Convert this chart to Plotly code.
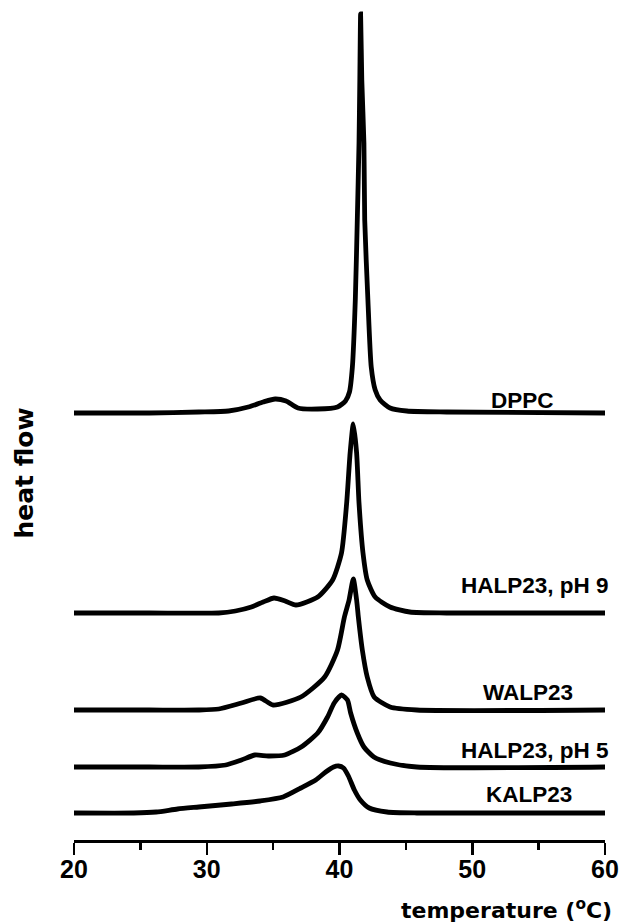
import plotly.graph_objects as go

# Temperatures (deg C) and heat flow (arbitrary units, stacked)
dppc_t = [20.00, 25.67, 29.40, 31.64, 33.13, 34.25, 35.15, 35.97, 36.87, 38.36, 39.85, 40.45, 40.75,
          40.97, 41.19, 41.34, 41.47, 41.53, 41.59, 41.68, 41.84, 41.90, 42.14, 42.39, 42.69, 43.06,
          43.81, 45.07, 48.06, 60.00]
dppc_h = [427, 427, 428, 429, 433, 438, 441, 439, 432, 431, 433, 439, 448,
          473, 540, 620, 697, 760, 826, 760, 697, 620, 540, 473, 450, 440,
          432, 429, 428, 427]

halp9_t = [20.00, 25.67, 30.90, 32.16, 33.36, 34.25, 35.07, 35.90, 36.72, 38.36, 39.48, 40.15, 40.54,
           40.80, 41.04, 41.29, 41.47, 41.77, 42.09, 42.69, 43.81, 45.30, 48.06, 60.00]
halp9_h = [227, 227, 227, 229, 233, 238, 242, 239, 235, 243, 260, 287, 337,
           387, 416, 387, 337, 287, 260, 243, 233, 228, 227, 227]

walp_t = [20.00, 25.67, 29.40, 30.90, 32.61, 34.03, 35.00, 37.09, 38.88, 39.85, 40.37, 40.72, 41.04,
          41.29, 41.42, 41.72, 42.09, 42.61, 43.81, 45.82, 60.00]
walp_h = [130, 130, 130, 131, 137, 142, 135, 143, 163, 190, 223, 240, 261,
          240, 223, 190, 163, 143, 133, 130, 130]

halp5_t = [20.00, 25.67, 29.40, 31.42, 32.61, 33.63, 34.63, 35.87, 37.11, 38.36, 39.10, 39.60, 40.15,
           40.60, 40.84, 41.34, 41.84, 42.59, 43.83, 45.82, 60.00]
halp5_h = [73, 73, 73, 75, 80, 85, 84, 85, 93, 107, 123, 137, 145,
           140, 127, 107, 93, 83, 77, 73, 73]

kalp_t = [20.00, 24.50, 26.20, 27.80, 29.40, 31.87, 34.03, 35.75, 37.09, 38.21, 38.96, 39.55, 39.93,
          40.30, 40.67, 41.12, 41.57, 42.24, 43.58, 45.82, 60.00]
kalp_h = [27, 27, 28, 31, 33, 36, 39, 43, 52, 60, 68, 73, 74,
          72, 64, 50, 40, 32, 28, 27, 27]

names = ["DPPC", "HALP23, pH 9", "WALP23", "HALP23, pH 5", "KALP23"]
label_t = [53.8, 54.7, 54.2, 54.7, 54.3]
label_h = [440, 255, 148, 90, 46]

tick_vals = [20, 30, 40, 50, 60]
tick_text = ["20", "30", "40", "50", "60"]

series = [(dppc_t, dppc_h), (halp9_t, halp9_h), (walp_t, walp_h), (halp5_t, halp5_h), (kalp_t, kalp_h)]

fig = go.Figure()
for (t, h), n in zip(series, names):
    fig.add_trace(go.Scatter(x=t, y=h, mode="lines", name=n,
                             line=dict(color="black", width=4.8, shape="spline", smoothing=0.6),
                             showlegend=False, hoverinfo="skip"))

for n, lt, lh in zip(names, label_t, label_h):
    fig.add_annotation(x=lt, y=lh, text=n, showarrow=False, xanchor="center", yanchor="middle",
                       font=dict(family="Liberation Sans", size=22.5, color="black", weight="bold"))

fig.add_annotation(xref="paper", yref="paper", x=1, y=-0.0826, xshift=9,
                   text="temperature (<sup>o</sup>C)",
                   showarrow=False, xanchor="right", yanchor="middle",
                   font=dict(family="DejaVu Sans", size=22, color="black", weight="bold"))
fig.add_annotation(xref="paper", yref="paper", x=-0.095, y=0.4395, text="heat flow", textangle=-90,
                   showarrow=False, xanchor="center", yanchor="middle",
                   font=dict(family="DejaVu Sans", size=25, color="black", weight="bold"))

fig.update_xaxes(range=[20, 60], showline=True, linecolor="black", linewidth=3, showgrid=False,
                 zeroline=False, ticks="outside", ticklen=12, tickwidth=2.5, tickcolor="black",
                 tickvals=tick_vals, ticktext=tick_text, ticklabelstandoff=-7,
                 ticklabeloverflow="allow",
                 tickfont=dict(family="Liberation Sans", size=25, color="black", weight="bold"),
                 minor=dict(ticks="outside", ticklen=7, tickwidth=2.5, tickcolor="black", dtick=5, tick0=20),
                 fixedrange=True)
fig.update_yaxes(range=[0, 835], visible=False, fixedrange=True)

fig.update_layout(width=624, height=924, margin=dict(l=74, r=14, t=5, b=84), autosize=False,
                  plot_bgcolor="white", paper_bgcolor="white")

fig.write_html("out.html",
               config={"displayModeBar": False, "responsive": False, "staticPlot": True},
               post_script="document.body.style.margin='0';document.body.style.overflow='hidden';")
